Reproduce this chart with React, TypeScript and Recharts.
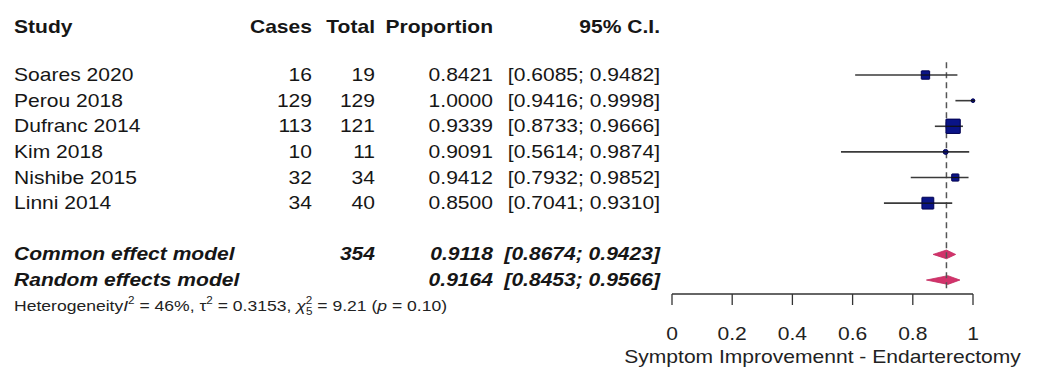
import React from "react";
import {
  ScatterChart,
  Scatter,
  XAxis,
  YAxis,
  ErrorBar,
  ReferenceLine,
  ReferenceArea,
  Customized,
} from "recharts";

// Individual studies
const studies = ["Soares 2020", "Perou 2018", "Dufranc 2014", "Kim 2018", "Nishibe 2015", "Linni 2014"];
const cases = [16, 129, 113, 10, 32, 34];
const totals = [19, 129, 121, 11, 34, 40];
const proportions = [0.8421, 1.0, 0.9339, 0.9091, 0.9412, 0.85];
const ciLower = [0.6085, 0.9416, 0.8733, 0.5614, 0.7932, 0.7041];
const ciUpper = [0.9482, 0.9998, 0.9666, 0.9874, 0.9852, 0.931];
const weights = [13.8, 2.7, 40.6, 4.9, 10.2, 27.7];

// Pooled estimates
const models = ["Common effect model", "Random effects model"];
const modelTotals = ["354", ""];
const modelEstimates = [0.9118, 0.9164];
const modelLower = [0.8674, 0.8453];
const modelUpper = [0.9423, 0.9566];

const xTicks = [0, 0.2, 0.4, 0.6, 0.8, 1];
const tickLabels = ["0", "0.2", "0.4", "0.6", "0.8", "1"];
const axisTitle = "Symptom Improvemennt - Endarterectomy";
const headers = ["Study", "Cases", "Total", "Proportion", "95% C.I."];

const fmt = (v: number) => v.toFixed(4);
const ciText = (lo: number, hi: number) => `[${fmt(lo)}; ${fmt(hi)}]`;

// Study rows occupy y = 1..6, pooled rows y = 8..9
const studyData = studies.map((name, i) => ({
  name,
  cases: cases[i],
  total: totals[i],
  x: proportions[i],
  y: i + 1,
  err: [proportions[i] - ciLower[i], ciUpper[i] - proportions[i]],
  lo: ciLower[i],
  hi: ciUpper[i],
  w: weights[i],
}));

const modelData = models.map((name, i) => ({
  name,
  total: modelTotals[i],
  x: modelEstimates[i],
  y: i + 8,
  lo: modelLower[i],
  hi: modelUpper[i],
}));

const FONT = "'Liberation Sans', Arial, sans-serif";
const SX = 1.17;
const TEXT = "#161616";
const COL = { study: 14, cases: 312, total: 375, prop: 493, ci: 660 };

type TProps = {
  x: number;
  y: number;
  anchor?: "start" | "end" | "middle";
  bold?: boolean;
  italic?: boolean;
  size?: number;
  fill?: string;
  children: React.ReactNode;
};

const T = ({ x, y, anchor = "start", bold, italic, size = 18, fill = TEXT, children }: TProps) => (
  <text
    transform={`translate(${x} ${y}) scale(${SX} 1)`}
    textAnchor={anchor}
    fontFamily={FONT}
    fontSize={size}
    fontWeight={bold ? 700 : 400}
    fontStyle={italic ? "italic" : "normal"}
    fill={fill}
  >
    {children}
  </text>
);

const StudyRow = (props: any) => {
  const { cx, cy, payload } = props;
  const side = 2.25 * Math.sqrt(payload.w);
  const by = cy + 6;
  return (
    <g>
      <T x={COL.study} y={by}>{payload.name}</T>
      <T x={COL.cases} y={by} anchor="end">{payload.cases}</T>
      <T x={COL.total} y={by} anchor="end">{payload.total}</T>
      <T x={COL.prop} y={by} anchor="end">{fmt(payload.x)}</T>
      <T x={COL.ci} y={by} anchor="end">{ciText(payload.lo, payload.hi)}</T>
      <rect
        x={cx - side / 2}
        y={cy - side / 2}
        width={side}
        height={side}
        rx={side < 6 ? side / 2 : 0.5}
        fill="#0a1487"
        stroke="#000050"
        strokeWidth={1}
      />
      <line x1={cx - side / 2} x2={cx + side / 2} y1={cy} y2={cy} stroke="#111" strokeWidth={1.2} />
    </g>
  );
};

const ModelRow = (props: any) => {
  const { cy, payload } = props;
  const by = cy + 6;
  return (
    <g>
      <T x={COL.study} y={by} bold italic>{payload.name}</T>
      <T x={COL.total} y={by} anchor="end" bold italic>{payload.total}</T>
      <T x={COL.prop} y={by} anchor="end" bold italic>{fmt(payload.x)}</T>
      <T x={COL.ci} y={by} anchor="end" bold italic>{ciText(payload.lo, payload.hi)}</T>
    </g>
  );
};

// Diamond spanning the CI, with its widest point at the pooled estimate
const makeDiamond = (est: number, lo: number, hi: number) => (p: any) => {
  const { x, y, width, height } = p;
  const c = x + (width * (est - lo)) / (hi - lo);
  const m = y + height / 2;
  return (
    <polygon
      points={`${x},${m} ${c},${y} ${x + width},${m} ${c},${y + height}`}
      fill="#d2336b"
      stroke="#c42a60"
      strokeWidth={0.8}
    />
  );
};

const HeaderAndNotes = () => (
  <g>
    <T x={COL.study} y={33} bold>{headers[0]}</T>
    <T x={COL.cases} y={33} anchor="end" bold>{headers[1]}</T>
    <T x={COL.total} y={33} anchor="end" bold>{headers[2]}</T>
    <T x={COL.prop} y={33} anchor="end" bold>{headers[3]}</T>
    <T x={COL.ci} y={33} anchor="end" bold>{headers[4]}</T>
    <text
      transform={`translate(14 311) scale(${SX} 1)`}
      fontFamily={FONT}
      fontSize={15}
      fill="#222"
    >
      <tspan>Heterogeneity</tspan>
      <tspan fontStyle="italic">I</tspan>
      <tspan fontSize={10} dy={-7}>2</tspan>
      <tspan dy={7}> = 46%, τ</tspan>
      <tspan fontSize={10} dy={-7}>2</tspan>
      <tspan dy={7}> = 0.3153, </tspan>
      <tspan fontStyle="italic">χ</tspan>
      <tspan fontSize={10} dy={-7}>2</tspan>
      <tspan fontSize={10} dx={-5.5} dy={11}>5</tspan>
      <tspan dy={-4}> = 9.21 (</tspan>
      <tspan fontStyle="italic">p</tspan>
      <tspan> = 0.10)</tspan>
    </text>
  </g>
);

const AxisTick = (props: any) => {
  const { x, y, index } = props;
  return (
    <T x={x} y={y + 35} anchor="middle" fill="#222">
      {tickLabels[index]}
    </T>
  );
};

const AxisTitle = (props: any) => {
  const { viewBox } = props;
  const cx = viewBox.x + viewBox.width / 2;
  return (
    <T x={cx} y={viewBox.y + 69} anchor="middle" fill="#222">
      {axisTitle}
    </T>
  );
};

export default function App() {
  return (
    <div style={{ position: "absolute", left: 0, top: 0, width: 1038, height: 369, background: "#fff" }}>
      <ScatterChart width={1038} height={369} margin={{ top: 49.4, right: 65, bottom: 15, left: 672 }}>
        <XAxis
          type="number"
          dataKey="x"
          domain={[0, 1]}
          ticks={xTicks}
          interval={0}
          tickSize={11}
          tickMargin={0}
          height={60}
          stroke="#333"
          strokeWidth={1.3}
          tick={<AxisTick />}
          label={<AxisTitle />}
        />
        <YAxis type="number" dataKey="y" domain={[0, 9.545]} reversed hide width={0} />
        <ReferenceLine
          segment={[
            { x: modelEstimates[0], y: 0.5 },
            { x: modelEstimates[0], y: 9.35 },
          ]}
          stroke="#555"
          strokeWidth={1.5}
          strokeDasharray="6 4"
        />
        {modelData.map((m) => (
          <ReferenceArea
            key={m.name}
            x1={m.lo}
            x2={m.hi}
            y1={m.y - 0.17}
            y2={m.y + 0.17}
            shape={makeDiamond(m.x, m.lo, m.hi)}
          />
        ))}
        <Scatter data={studyData} shape={<StudyRow />} isAnimationActive={false}>
          <ErrorBar dataKey="err" direction="x" width={0} stroke="#3a3a3a" strokeWidth={1.6} />
        </Scatter>
        <Scatter data={modelData} shape={<ModelRow />} isAnimationActive={false} />
        <Customized component={<HeaderAndNotes />} />
      </ScatterChart>
    </div>
  );
}
